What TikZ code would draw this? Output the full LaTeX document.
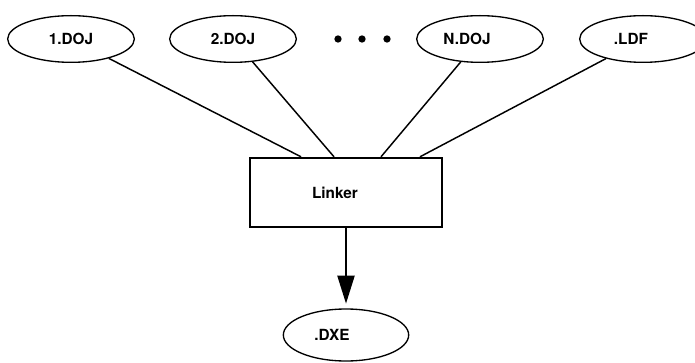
\documentclass[tikz,border=0pt]{standalone}
\usepackage{fontspec}
\setmainfont{TeX Gyre Heros}
\usetikzlibrary{shapes.geometric,arrows.meta}
\begin{document}
\begin{tikzpicture}[x=0.75pt,y=-0.75pt,
        file/.style={ellipse,draw,line width=1pt,minimum width=95pt,minimum height=35pt,inner sep=0pt,font=\fontsize{11.5}{13}\selectfont\bfseries},
        dot/.style={circle,fill,inner sep=0pt,minimum size=5.5pt}]
        \useasboundingbox (0,0) rectangle (695,363);

        \node (d1) at (71,39) [file] {1.DOJ};
        \node (d2) at (233,39) [file] {2.DOJ};
        \node (dot1) at (338,39) [dot] {};
        \node (dot2) at (362,39) [dot] {};
        \node (dot3) at (387,39) [dot] {};
        \node (dn) at (480,39) [file] {N.DOJ\hspace*{19.5pt}};
        \node (ldf) at (643,39) [file] {.LDF\hspace*{18pt}};
        \node (link) at (346,192.5) [draw,line width=1.8pt,minimum width=144pt,minimum height=51.75pt,inner sep=0pt,font=\fontsize{11.5}{13}\selectfont\bfseries] {Linker\hspace*{16.5pt}};
        \node (dxe) at (346,335) [file,minimum width=94pt,minimum height=39pt] {.DXE\hspace*{21pt}};

        \draw[line width=1.1pt] (d1) -- ([xshift=-33.75pt]link.north);
        \draw[line width=1.1pt] (d2) -- ([xshift=-9pt]link.north);
        \draw[line width=1.1pt] (dn) -- ([xshift=26.25pt]link.north);
        \draw[line width=1.1pt] (ldf) -- ([xshift=55.5pt]link.north);
        \draw[line width=1.6pt,-{Triangle[length=21pt,width=12.75pt]},shorten >=3.5pt] (link) -- (dxe);
    \end{tikzpicture}
\end{document}
